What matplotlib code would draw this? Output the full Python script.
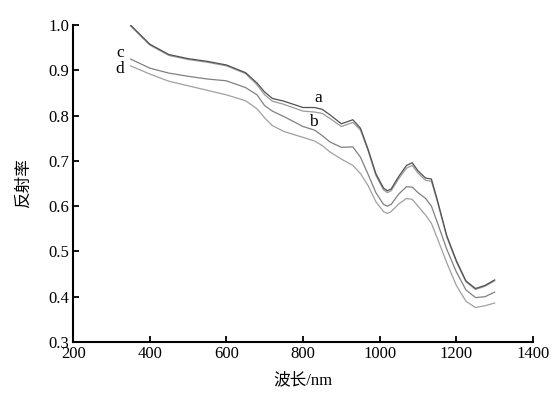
import matplotlib
matplotlib.use('Agg')
import matplotlib.pyplot as plt

plt.rcParams['font.family'] = ['Liberation Serif', 'Noto Sans CJK SC']

wl = [350, 400, 450, 500, 550, 600, 650, 680, 700, 720, 750, 800, 830, 850,
      870, 900, 930, 950, 970, 990, 1010, 1020, 1030, 1050, 1070, 1085, 1100,
      1120, 1135, 1150, 1175, 1200, 1225, 1250, 1275, 1300]

refl_a = [1.000, 0.958, 0.935, 0.926, 0.920, 0.912, 0.895, 0.872, 0.852, 0.838,
          0.832, 0.818, 0.818, 0.814, 0.802, 0.782, 0.791, 0.772, 0.725, 0.672,
          0.640, 0.634, 0.638, 0.666, 0.690, 0.696, 0.678, 0.662, 0.660, 0.615,
          0.535, 0.480, 0.435, 0.418, 0.425, 0.437]
refl_b = [0.998, 0.956, 0.933, 0.924, 0.918, 0.910, 0.893, 0.868, 0.846, 0.832,
          0.825, 0.810, 0.808, 0.805, 0.794, 0.776, 0.785, 0.768, 0.722, 0.668,
          0.636, 0.630, 0.634, 0.661, 0.684, 0.690, 0.673, 0.657, 0.655, 0.612,
          0.532, 0.477, 0.433, 0.416, 0.423, 0.435]
refl_c = [0.925, 0.905, 0.894, 0.887, 0.881, 0.877, 0.862, 0.846, 0.822, 0.810,
          0.798, 0.776, 0.768, 0.756, 0.742, 0.730, 0.731, 0.708, 0.670, 0.630,
          0.604, 0.600, 0.604, 0.627, 0.643, 0.642, 0.630, 0.617, 0.600, 0.565,
          0.505, 0.455, 0.415, 0.398, 0.400, 0.410]
refl_d = [0.910, 0.892, 0.876, 0.866, 0.856, 0.846, 0.833, 0.815, 0.795, 0.778,
          0.765, 0.752, 0.744, 0.734, 0.720, 0.704, 0.690, 0.672, 0.645, 0.610,
          0.588, 0.584, 0.588, 0.605, 0.617, 0.615, 0.600, 0.580, 0.562, 0.530,
          0.475, 0.425, 0.390, 0.376, 0.380, 0.386]

labels = ['a', 'b', 'c', 'd']
label_x = [840, 828, 322, 322]
label_y = [0.838, 0.786, 0.938, 0.902]

fig = plt.figure(figsize=(5.54, 3.99), dpi=100)
ax = fig.add_axes([0.132, 0.143, 0.830, 0.794])

ax.plot(wl, refl_b, color='#9a9a9a', lw=0.9)
ax.plot(wl, refl_a, color='#505050', lw=0.9)
ax.plot(wl, refl_c, color='#808080', lw=0.9)
ax.plot(wl, refl_d, color='#a0a0a0', lw=0.9)

for s, tx, ty in zip(labels, label_x, label_y):
    ax.text(tx, ty, s, fontsize=12.5, ha='center', va='center')

ax.set_xlim(200, 1400)
ax.set_ylim(0.3, 1.0)
ax.set_xticks(range(200, 1401, 200))
ax.set_yticks([0.3, 0.4, 0.5, 0.6, 0.7, 0.8, 0.9, 1.0])
ax.set_yticklabels(['0.3', '0.4', '0.5', '0.6', '0.7', '0.8', '0.9', '1.0'])

ax.spines['top'].set_visible(False)
ax.spines['right'].set_visible(False)
ax.spines['left'].set_linewidth(1.5)
ax.spines['bottom'].set_linewidth(1.5)
ax.tick_params(direction='in', length=4, width=1.3, labelsize=12)
ax.tick_params(axis='x', pad=3)
ax.tick_params(axis='y', pad=3)

ax.set_xlabel('波长/nm', fontsize=12, labelpad=7)
ax.set_ylabel('反射率', fontsize=12, labelpad=12)

fig.savefig('out.png', dpi=100)
